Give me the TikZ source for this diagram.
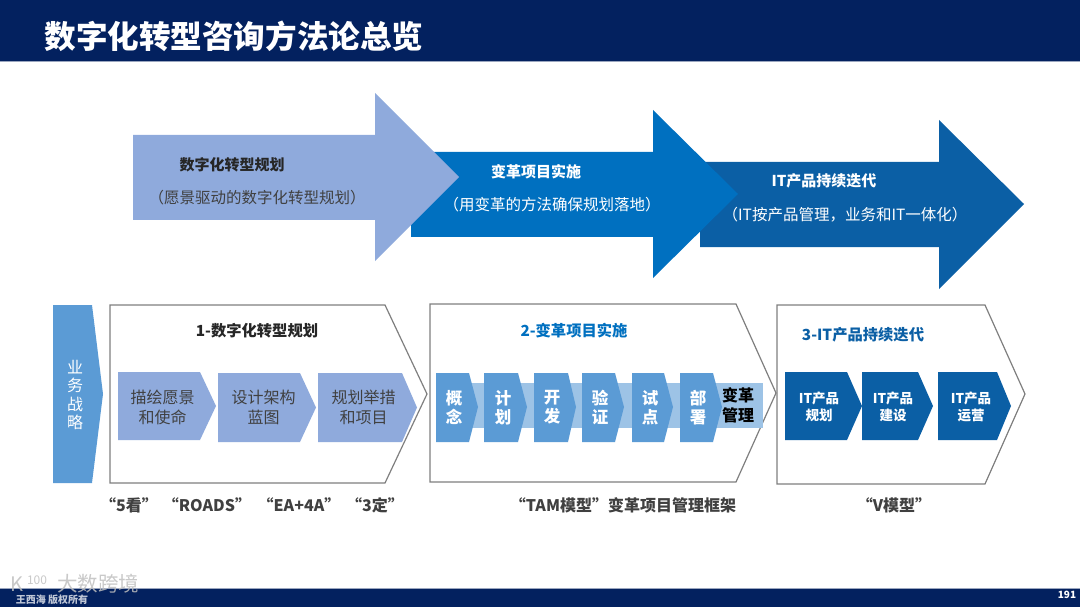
\documentclass[tikz,border=0pt]{standalone}
\usepackage{fontspec}
\setmainfont{Noto Sans CJK SC}
\usetikzlibrary{positioning}
\definecolor{navy}{HTML}{03215F}
\definecolor{lightarrow}{HTML}{8FAADC}
\definecolor{midarrow}{HTML}{0070C0}
\definecolor{deeparrow}{HTML}{0B5FA5}
\definecolor{sidearrow}{HTML}{5B9BD5}
\definecolor{bandblue}{HTML}{9DC3E6}
\definecolor{framegray}{HTML}{7F7F7F}
\definecolor{inkgray}{HTML}{404040}
\begin{document}
\begin{tikzpicture}[
                x=1pt, y=-1pt,
                every node/.style={align=center, inner sep=0pt},
                bigtitle/.style={font=\fontsize{15}{17}\selectfont\bfseries},
                bigtext/.style={font=\fontsize{15.5}{18}\selectfont},
                boxtitle/.style={font=\fontsize{15.3}{17}\selectfont\bfseries},
                steptext/.style={font=\fontsize{16}{19.5}\selectfont},
                tamtext/.style={font=\fontsize{16.5}{19}\selectfont\bfseries, text=white},
                ittext/.style={font=\fontsize{13.5}{17}\selectfont\bfseries, text=white},
                bottomtext/.style={font=\fontsize{16}{18}\selectfont\bfseries, text=inkgray},
                frame/.style={draw=framegray, line width=1.2pt, fill=white}
            ]
            \useasboundingbox (0,0) rectangle (1080,607);
            % header and footer
            \fill[navy] (0,0) rectangle (1080,62);
            \fill[navy] (0,588) rectangle (1080,607);
            \draw[navy!40, line width=1pt] (0,62) -- (1080,62);
            \draw[navy!40, line width=1pt] (0,588) -- (1080,588);
            \node (title) at (234,36) [text=white, font=\fontsize{31.6}{34}\selectfont\bfseries] {数字化转型咨询方法论总览};
            \node (pageno) at (1067,595) [text=white, font=\fontsize{10}{12}\selectfont\bfseries] {191};
            \node (mark) at (98,584) [text=gray!50, opacity=.85, font=\fontsize{20.5}{24}\selectfont] {大数跨境};
            \node (owner) at (52,600) [text=white, opacity=.75, font=\fontsize{10}{11}\selectfont\bfseries] {王西海 版权所有};
            \node (logok) at (17,584) [text=gray!50, opacity=.85, font=\fontsize{20}{22}\selectfont] {K};
            \node (logonum) at (37,580) [text=gray!50, opacity=.85, font=\fontsize{12}{14}\selectfont] {100};

            % big arrows, last one first
            \fill[deeparrow] (700,162) -- (939,162) -- (939,120) -- (1024,204) -- (939,289) -- (939,247) -- (700,247) -- cycle;
            \fill[midarrow] (411,152) -- (653,152) -- (653,110) -- (738,194) -- (653,278) -- (653,237) -- (411,237) -- cycle;
            \fill[lightarrow] (133,135) -- (375,135) -- (375,93) -- (459,177) -- (375,261) -- (375,220) -- (133,220) -- cycle;
            \node (plan) at (232,165) [bigtitle, text=black!85] {数字化转型规划};
            \node (plansub) at (257,198) [bigtext, text=inkgray] {（愿景驱动的数字化转型规划）};
            \node (change) at (536,172) [bigtitle, text=white] {变革项目实施};
            \node (changesub) at (552,205) [bigtext, text=white] {（用变革的方法确保规划落地）};
            \node (iter) at (824,181) [bigtitle, text=white] {IT产品持续迭代};
            \node (itersub) at (845,215) [bigtext, text=white] {（IT按产品管理，业务和IT一体化）};

            % left arrow
            \fill[sidearrow] (53,305) -- (92,305) -- (103,394) -- (92,483) -- (53,483) -- cycle;
            \node (strategy) at (75,395) [text=white, font=\fontsize{16}{18.5}\selectfont] {业\\务\\战\\略};

            % three frames
            \path[frame] (110,305) -- (385,305) -- (427,394) -- (385,483) -- (110,483) -- cycle;
            \path[frame] (430,304) -- (736,304) -- (776,393) -- (736,482) -- (430,482) -- cycle;
            \path[frame] (777,305) -- (985,305) -- (1025,394) -- (985,484) -- (777,484) -- cycle;
            \node (frameone) at (257,331) [boxtitle, text=black!85] {1-数字化转型规划};
            \node (frametwo) at (574,331) [boxtitle, text=midarrow] {2-变革项目实施};
            \node (framethree) at (863,335) [boxtitle, text=deeparrow] {3-IT产品持续迭代};

            % first frame
            \foreach \xa/\xb/\xc/\ya/\yb/\xt/\name/\label in {
                    118/200/216/372/440/162.5/one/描绘愿景\\和使命,
                    218/300/316/373/442/263.5/two/设计架构\\蓝图,
                    318/402/417/373/442/363.5/three/规划举措\\和项目} {
                \fill[lightarrow] (\xa,\ya) -- (\xb,\ya) -- (\xc,{(\ya+\yb)/2}) -- (\xb,\yb) -- (\xa,\yb) -- cycle;
                \node (step\name) at (\xt,407.5) [steptext, text=inkgray] {\label};
            }

            % second frame
            \fill[bandblue] (436,383) rectangle (763,428);
            \foreach \xa/\xb/\xc/\xt/\name/\label in {
                    436/469/478/454/a/概\\念,
                    484/518/527/503/b/计\\划,
                    534/568/576/552/c/开\\发,
                    582/615/624/600/d/验\\证,
                    632/664/673/650/e/试\\点,
                    680/713/722/698/f/部\\署} {
                \fill[sidearrow] (\xa,373) -- (\xb,373) -- (\xc,407) -- (\xb,442) -- (\xa,442) -- cycle;
                \node (tam\name) at (\xt,407.5) [tamtext] {\label};
            }
            \node (tamg) at (738,405) [font=\fontsize{16}{20}\selectfont\bfseries, text=black] {变革\\管理};

            % third frame
            \foreach \xa/\xb/\xc/\xt/\name/\label in {
                    785/847/862/819/a/IT产品\\规划,
                    862/918/933/893/b/IT产品\\建设,
                    938/997/1011/971/c/IT产品\\运营} {
                \fill[deeparrow] (\xa,372) -- (\xb,372) -- (\xc,406) -- (\xb,440) -- (\xa,440) -- cycle;
                \node (it\name) at (\xt,406.5) [ittext] {\label};
            }

            % captions
            \node (capa) at (129,505) [bottomtext] {“5看”};
            \node (capb) at (207,505) [bottomtext] {“ROADS”};
            \node (capc) at (299,505) [bottomtext] {“EA+4A”};
            \node (capd) at (375,505) [bottomtext] {“3定”};
            \node (cape) at (623,505) [bottomtext] {“TAM模型”变革项目管理框架};
            \node (capf) at (894,505) [bottomtext] {“V模型”};
        \end{tikzpicture}
\end{document}
